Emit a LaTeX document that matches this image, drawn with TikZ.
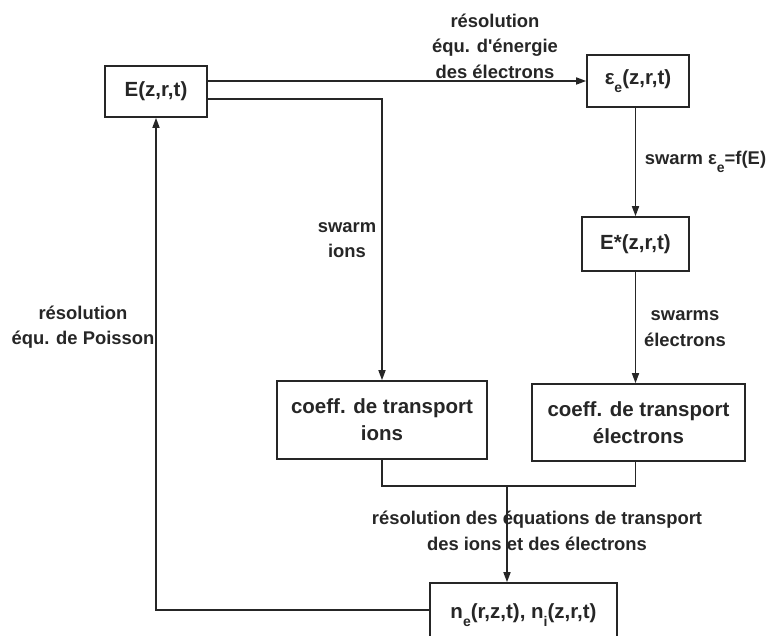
\documentclass[tikz,border=0pt]{standalone}
\usepackage{fontspec}
\setmainfont{Liberation Sans}
\usetikzlibrary{arrows.meta}
\newcommand\lowsub[1]{\raisebox{-0.42em}{\fontsize{14}{14}\selectfont #1}}
\begin{document}
\begin{tikzpicture}[x=1pt,y=-1pt, line width=1.6pt, draw=black!85, text=black!85,
  box/.style={draw, line width=1.6pt, inner sep=0pt, font=\bfseries\fontsize{20.5}{27}\selectfont, align=center},
  lbl/.style={font=\bfseries\fontsize{18.4}{25.5}\selectfont, align=center, inner sep=0pt},
  arr/.style={-{Triangle[length=10pt,width=7pt]}}]
\useasboundingbox (0,0) rectangle (769,636);
\clip (0,0) rectangle (769,636);
% boxes
\node[box, minimum width=102pt, minimum height=51pt] (E) at (156,91.5) {E(z,r,t)};
\node[box, minimum width=102pt, minimum height=52pt] (eps) at (638,81) {ε\lowsub{e}(z,r,t)};
\node[box, minimum width=107pt, minimum height=54pt] (Estar) at (635.5,244) {E*(z,r,t)};
\node[box, minimum width=210pt, minimum height=78pt] (ions) at (382,420) {coeff. de transport\\ions};
\node[box, minimum width=213pt, minimum height=77pt] (elec) at (638.5,422.5) {coeff. de transport\\électrons};
\node[box, minimum width=187pt, minimum height=64pt] (n) at (523.5,615) {n\lowsub{e}(r,z,t), n\lowsub{i}(z,r,t)};
\coordinate (J) at (507,486);
% connectors
\draw[arr] (E.east |- eps.west) -- (eps.west);
\draw[arr] ([yshift=-7.5pt]E.east) -| (ions.north);
\draw[arr] (Estar.north |- eps.south) -- (Estar.north);
\draw[arr] (Estar.south) -- (Estar.south |- elec.north);
\draw (ions.south) |- (Estar.south |- J) -- (Estar.south |- elec.south);
\draw[arr] (J) -- (J |- n.north);
\draw[arr] ([yshift=5pt]n.west) -| (E.south);
% labels
\node[lbl] (l1) at (495,46) {résolution\\équ. d\textquotesingle énergie\\des électrons};
\node[lbl, anchor=base west] (l2) at (644,165) {swarm ε\lowsub{e}=f(E)};
\node[lbl] (l3) at (347,240) {swarm\\ions};
\node[lbl] (l4) at (685,328.5) {swarms\\électrons};
\node[lbl] (l5) at (83,327) {résolution\\équ. de Poisson};
\node[lbl] (l6) at (537,531) {résolution des équations de transport\\des ions et des électrons};
\end{tikzpicture}
\end{document}
